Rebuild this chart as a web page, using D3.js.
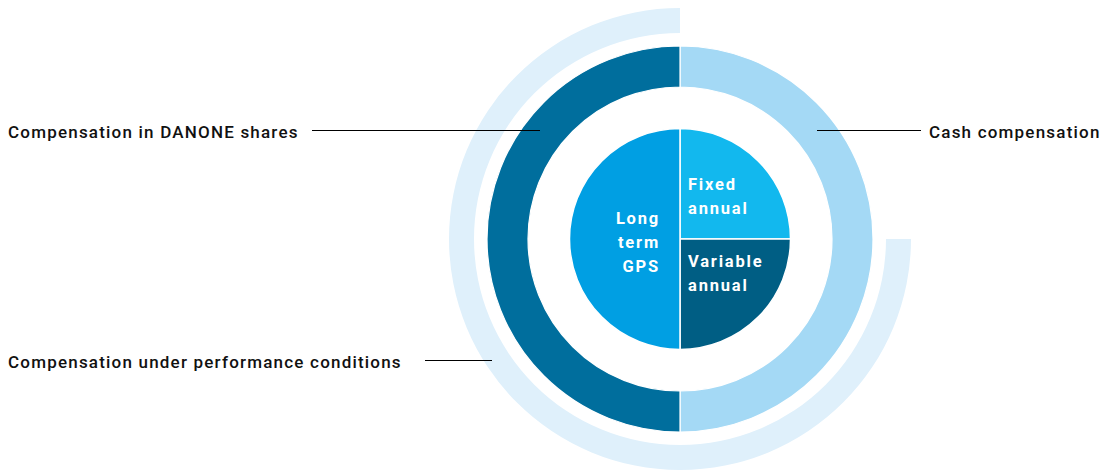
<!DOCTYPE html>
<html lang=en>
<head>
	<meta charset="utf-8">
	<title>compensation structure</title>
	<script src="https://cdn.jsdelivr.net/npm/d3@7"></script>
	<style>
		body { margin: 0; background: #fff; }
		text { font-family: Roboto, "Open Sans", sans-serif; }
	</style>
</head>
<body>
	<script type="text/javascript">
	// inner pie
	var pieLabels = [["Fixed", "annual"], ["Variable", "annual"], ["Long", "term", "GPS"]];
	var pieValues = [25, 25, 50];
	var pieColors = ["#12b8ee", "#005e84", "#009fe3"];

	// middle ring
	var ringLabels = ["Cash compensation", "Compensation in DANONE shares"];
	var ringValues = [50, 50];
	var ringColors = ["#a4d9f5", "#006e9d"];

	// outer arc (first part left empty)
	var outerLabels = ["", "Compensation under performance conditions"];
	var outerValues = [25, 75];
	var outerColors = ["none", "#dff0fb"];

	var W = 1100, H = 471, cx = 680, cy = 239;

	var svg = d3.select('body').append('svg')
		.attr('width', W).attr('height', H);
	var g = svg.append('g').attr('transform', 'translate(' + cx + ',' + cy + ')');

	var pie = d3.pie().sort(null);

	// outer
	var outerArc = d3.arc().innerRadius(206).outerRadius(231);
	g.selectAll('path.outer')
		.data(pie(outerValues))
		.enter().append('path')
		.attr('class', 'outer')
		.attr('d', outerArc)
		.attr('fill', function(d, i){ return outerColors[i]; });

	// ring
	var ringArc = d3.arc().innerRadius(152).outerRadius(193);
	g.selectAll('path.ring')
		.data(pie(ringValues))
		.enter().append('path')
		.attr('class', 'ring')
		.attr('d', ringArc)
		.attr('fill', function(d, i){ return ringColors[i]; })
		.attr('stroke', '#fff').attr('stroke-width', 1.2);

	// pie
	var pieArc = d3.arc().innerRadius(0).outerRadius(110.5);
	g.selectAll('path.pie')
		.data(pie(pieValues))
		.enter().append('path')
		.attr('class', 'pie')
		.attr('d', pieArc)
		.attr('fill', function(d, i){ return pieColors[i]; })
		.attr('stroke', '#fff').attr('stroke-width', 1.5);

	// slice labels: [x, y of first line, anchor]
	var labelPos = [[8, -55, 'start'], [8, 22, 'start'], [-20, -21, 'end']];
	g.selectAll('text.slice')
		.data(pieLabels)
		.enter().append('text')
		.attr('class', 'slice')
		.attr('x', function(d, i){ return labelPos[i][0]; })
		.attr('y', function(d, i){ return labelPos[i][1]; })
		.attr('text-anchor', function(d, i){ return labelPos[i][2]; })
		.attr('fill', '#fff')
		.style('font-size', '16.5px')
		.style('font-weight', 'bold')
		.style('letter-spacing', '1.8px')
		.attr('dominant-baseline', 'central')
		.each(function(d, i){
			var t = d3.select(this);
			d.forEach(function(line, j){
				t.append('tspan')
					.attr('x', labelPos[i][0])
					.attr('dy', j == 0 ? 0 : 24)
					.text(line);
			});
		});

	// callouts: text x, line from, line to, y
	var callouts = [
		{text: ringLabels[0], tx: 929, anchor: 'start', x1: 817, x2: 921, y: 130.5},
		{text: ringLabels[1], tx: 8, anchor: 'start', x1: 312, x2: 540, y: 130.5},
		{text: outerLabels[1], tx: 8, anchor: 'start', x1: 425, x2: 492, y: 360.5}
	];

	svg.selectAll('line.callout')
		.data(callouts)
		.enter().append('line')
		.attr('class', 'callout')
		.attr('x1', function(d){ return d.x1; })
		.attr('x2', function(d){ return d.x2; })
		.attr('y1', function(d){ return d.y; })
		.attr('y2', function(d){ return d.y; })
		.attr('stroke', '#000').attr('stroke-width', 1);

	svg.selectAll('text.callout')
		.data(callouts)
		.enter().append('text')
		.attr('class', 'callout')
		.attr('x', function(d){ return d.tx; })
		.attr('y', function(d){ return d.y + 1.5; })
		.attr('dominant-baseline', 'central')
		.attr('text-anchor', function(d){ return d.anchor; })
		.attr('fill', '#111')
		.style('font-size', '17px')
		.style('font-weight', 500)
		.style('letter-spacing', '1.2px')
		.text(function(d){ return d.text; });
	</script>
</body>
</html>
